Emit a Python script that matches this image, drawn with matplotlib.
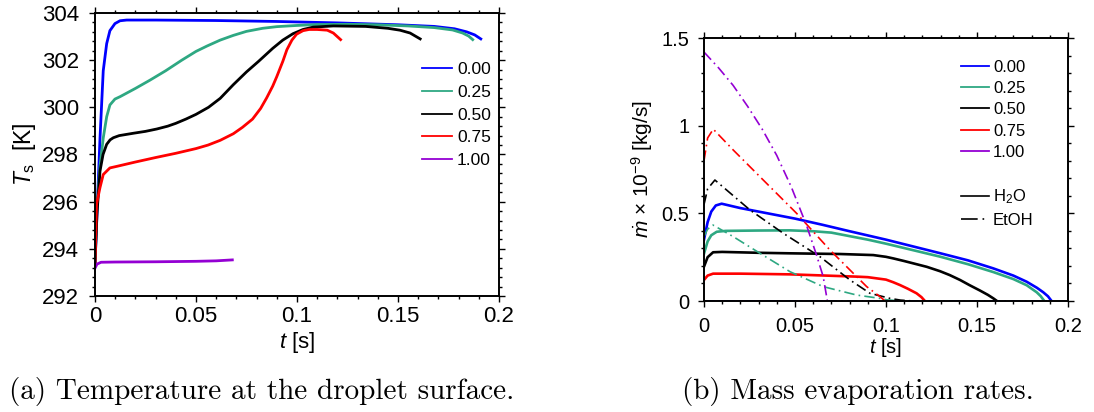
import numpy as np
import matplotlib
matplotlib.use('Agg')
import matplotlib.pyplot as plt
from matplotlib.lines import Line2D
from matplotlib.ticker import MultipleLocator

# ethanol mass fractions (legend labels)
cases = ['0.00', '0.25', '0.50', '0.75', '1.00']
colors = ['#0000ff', '#2ea882', '#000000', '#ff0000', '#9400d3']

# ---- (a) surface temperature T_s [K] vs t [s]
t_T00 = [0, 0.001, 0.0025, 0.0041, 0.0058, 0.0074, 0.0099, 0.0124, 0.0157, 0.03, 0.06,
         0.09, 0.12, 0.15, 0.168, 0.178, 0.184, 0.188, 0.191]
T_00 = [293.3, 295.5, 298.7, 301.55, 302.7, 303.25, 303.55, 303.67, 303.7, 303.7, 303.68,
        303.64, 303.58, 303.5, 303.43, 303.33, 303.2, 303.07, 302.9]

t_T25 = [0, 0.001, 0.0025, 0.0041, 0.0058, 0.0074, 0.0099, 0.0124, 0.02, 0.0272, 0.035,
         0.043, 0.05, 0.0555, 0.062, 0.0685, 0.075, 0.083, 0.09, 0.0998, 0.11, 0.125,
         0.14, 0.155, 0.168, 0.177, 0.182, 0.185, 0.187]
T_25 = [293.4, 295.8, 297.5, 298.7, 299.6, 300.1, 300.35, 300.45, 300.8, 301.15, 301.55,
        302.0, 302.37, 302.6, 302.85, 303.05, 303.22, 303.35, 303.42, 303.47, 303.51, 303.52,
        303.5, 303.45, 303.38, 303.28, 303.15, 303.02, 302.87]

t_T50 = [0, 0.001, 0.0025, 0.004, 0.0058, 0.0075, 0.0091, 0.012, 0.019, 0.025, 0.0306,
         0.036, 0.04, 0.045, 0.05, 0.0562, 0.062, 0.0685, 0.075, 0.081, 0.088, 0.093,
         0.098, 0.103, 0.108, 0.118, 0.134, 0.145, 0.151, 0.156, 0.161]
T_50 = [293.3, 295.5, 297.3, 298.0, 298.43, 298.62, 298.71, 298.8, 298.9, 298.98, 299.08,
        299.2, 299.32, 299.5, 299.7, 300.0, 300.38, 300.96, 301.5, 301.95, 302.5, 302.85,
        303.12, 303.3, 303.4, 303.45, 303.43, 303.35, 303.27, 303.15, 302.9]

t_T75 = [0, 0.0008, 0.0025, 0.0041, 0.0074, 0.011, 0.02, 0.03, 0.04, 0.05, 0.056,
         0.062, 0.0685, 0.073, 0.078, 0.082, 0.085, 0.088, 0.09, 0.093, 0.095, 0.0975,
         0.0998, 0.103, 0.106, 0.11, 0.115, 0.118, 0.1216]
T_75 = [293.3, 295.9, 296.6, 297.15, 297.43, 297.5, 297.68, 297.87, 298.05, 298.25, 298.4,
        298.6, 298.88, 299.15, 299.5, 299.95, 300.4, 300.9, 301.3, 301.95, 302.44, 302.85,
        303.1, 303.25, 303.3, 303.3, 303.27, 303.15, 302.87]

t_T100 = [0, 0.001, 0.003, 0.01, 0.03, 0.05, 0.06, 0.068]
T_100 = [293.18, 293.35, 293.43, 293.44, 293.45, 293.47, 293.49, 293.53]

# ---- (b) evaporation rates [1e-9 kg/s] vs t [s]
t_w00 = [0, 0.002, 0.004, 0.0065, 0.0097, 0.02, 0.035, 0.05, 0.065, 0.08, 0.1, 0.12,
         0.13, 0.145, 0.159, 0.17, 0.1773, 0.183, 0.1864, 0.189, 0.191]
w_00 = [0.35, 0.45, 0.51, 0.545, 0.555, 0.53, 0.5, 0.47, 0.435, 0.398, 0.35, 0.298,
        0.272, 0.232, 0.186, 0.145, 0.11, 0.075, 0.05, 0.027, 0.0]
t_e00 = [0, 0.191]
e_00 = [0.0, 0.0]

t_w25 = [0, 0.002, 0.004, 0.007, 0.012, 0.03, 0.0473, 0.06, 0.07, 0.08, 0.09, 0.1,
         0.1297, 0.145, 0.159, 0.17, 0.1773, 0.1828, 0.185, 0.187]
w_25 = [0.27, 0.34, 0.375, 0.395, 0.4, 0.402, 0.403, 0.398, 0.39, 0.37, 0.35, 0.327,
        0.253, 0.21, 0.165, 0.125, 0.09, 0.05, 0.028, 0.0]
t_e25 = [0, 0.002, 0.005, 0.0161, 0.0308, 0.0473, 0.0655, 0.0839, 0.0967, 0.1004, 0.108]
e_25 = [0.367, 0.41, 0.433, 0.367, 0.272, 0.167, 0.082, 0.034, 0.015, 0.007, 0.0]

t_w50 = [0, 0.002, 0.005, 0.01, 0.03, 0.0473, 0.075, 0.093, 0.1, 0.104, 0.11, 0.1224,
         0.1297, 0.135, 0.1407, 0.146, 0.1516, 0.156, 0.159, 0.161]
w_50 = [0.196, 0.25, 0.278, 0.28, 0.275, 0.272, 0.268, 0.262, 0.252, 0.243, 0.228, 0.195,
        0.17, 0.148, 0.12, 0.09, 0.06, 0.035, 0.015, 0.0]
t_e50 = [0, 0.002, 0.006, 0.0253, 0.0436, 0.0637, 0.0802, 0.0912, 0.1022, 0.108, 0.115]
e_50 = [0.55, 0.64, 0.69, 0.519, 0.386, 0.253, 0.12, 0.044, 0.015, 0.005, 0.0]

t_w75 = [0, 0.002, 0.005, 0.02, 0.0473, 0.0839, 0.09, 0.1, 0.104, 0.1077, 0.112,
         0.1168, 0.1195, 0.1214]
w_75 = [0.12, 0.145, 0.156, 0.156, 0.152, 0.139, 0.136, 0.122, 0.107, 0.091, 0.07,
        0.044, 0.022, 0.0]
t_e75 = [0, 0.002, 0.0051, 0.0161, 0.0344, 0.0509, 0.0692, 0.0802, 0.0894, 0.0967, 0.0995]
e_75 = [0.8, 0.93, 0.98, 0.861, 0.671, 0.5, 0.291, 0.177, 0.082, 0.025, 0.0]

t_w100 = [0, 0.068]
w_100 = [0.0, 0.0]
t_e100 = [0, 0.008, 0.016, 0.024, 0.032, 0.04, 0.048, 0.0564, 0.0619, 0.0655, 0.0678]
e_100 = [1.42, 1.33, 1.23, 1.11, 0.98, 0.83, 0.65, 0.43, 0.26, 0.139, 0.0]

T_series = [(t_T00, T_00), (t_T25, T_25), (t_T50, T_50), (t_T75, T_75), (t_T100, T_100)]
w_series = [(t_w00, w_00), (t_w25, w_25), (t_w50, w_50), (t_w75, w_75), (t_w100, w_100)]
e_series = [(t_e00, e_00), (t_e25, e_25), (t_e50, e_50), (t_e75, e_75), (t_e100, e_100)]

plt.rcParams['font.family'] = ['Liberation Sans', 'DejaVu Sans']
plt.rcParams['mathtext.fontset'] = 'custom'
plt.rcParams['mathtext.rm'] = 'Liberation Sans'
plt.rcParams['mathtext.it'] = 'Liberation Sans:italic'
plt.rcParams['lines.scale_dashes'] = False

dashdot = (0, (7.5, 3, 1.2, 3))

fig = plt.figure(figsize=(10.94, 4.12), dpi=100)
ax1 = fig.add_axes([0.0868, 0.2816, 0.3693, 0.6869])
ax2 = fig.add_axes([0.6435, 0.2694, 0.3327, 0.6383])


def style_axes(ax, fs, xpad, ypad):
    for s in ax.spines.values():
        s.set_linewidth(1.4)
    ax.tick_params(which='both', direction='out', top=True, right=True, labelsize=fs, width=1.0)
    ax.tick_params(which='major', length=4.5)
    ax.tick_params(which='minor', length=2.5)
    ax.tick_params(axis='x', pad=xpad)
    ax.tick_params(axis='y', pad=ypad)
    ax.xaxis.set_minor_locator(MultipleLocator(0.01))
    ax.set_xlim(0, 0.2)
    ax.set_xticks([0, 0.05, 0.1, 0.15, 0.2])
    ax.set_xticklabels(['0', '0.05', '0.1', '0.15', '0.2'])


# (a)
for (t, T), c in zip(T_series, colors):
    ax1.plot(t, T, color=c, lw=2.0)
style_axes(ax1, 16, 3, 7)
ax1.set_ylim(292, 304)
ax1.yaxis.set_major_locator(MultipleLocator(2))
ax1.yaxis.set_minor_locator(MultipleLocator(0.4))
ax1.set_xlabel(r'$t$ [s]', fontsize=16, labelpad=2)
ax1.set_ylabel(r'$T_{\rm s}$  [K]', fontsize=16.5, labelpad=3)
h1 = [Line2D([], [], color=c, lw=1.3) for c in colors]
ax1.legend(h1, cases, loc='upper left', bbox_to_anchor=(0.81, 0.826), frameon=False,
           fontsize=12.5, handlelength=1.7, handletextpad=0.3, labelspacing=0.43,
           borderpad=0, borderaxespad=0)

# (b)
for (t, w), c in zip(w_series, colors):
    ax2.plot(t, w, color=c, lw=1.9)
for (t, e), c in zip(e_series, colors):
    ax2.plot(t, e, color=c, lw=1.2, linestyle=dashdot)
style_axes(ax2, 14.5, 7, 6)
ax2.set_ylim(0, 1.5)
ax2.set_yticks([0, 0.5, 1, 1.5])
ax2.set_yticklabels(['0', '0.5', '1', '1.5'])
ax2.yaxis.set_minor_locator(MultipleLocator(0.1))
ax2.set_xlabel(r'$t$ [s]', fontsize=14.5, labelpad=0)
ax2.set_ylabel(r'$\dot{m}$ $\times$ 10$^{-9}$ [kg/s]', fontsize=15, labelpad=5)
h2 = [Line2D([], [], color=c, lw=1.3) for c in colors]
h2 += [Line2D([], [], color='none'),
       Line2D([], [], color='k', lw=1.2),
       Line2D([], [], color='k', lw=1.2, linestyle=(0, (12, 3.5, 1.2, 10)))]
labels2 = cases + [' ', r'H$_2$O', 'EtOH']
ax2.legend(h2, labels2, loc='upper left', bbox_to_anchor=(0.705, 0.918), frameon=False,
           fontsize=12, handlelength=1.7, handletextpad=0.25, labelspacing=0.38,
           borderpad=0, borderaxespad=0)

# captions
fig.text(0.2395, 0.05, '(a) Temperature at the droplet surface.', family='cmr10',
         fontsize=21, ha='center', va='center')
fig.text(0.7838, 0.05, '(b) Mass evaporation rates.', family='cmr10',
         fontsize=21, ha='center', va='center')

fig.savefig('out.png', dpi=100)
